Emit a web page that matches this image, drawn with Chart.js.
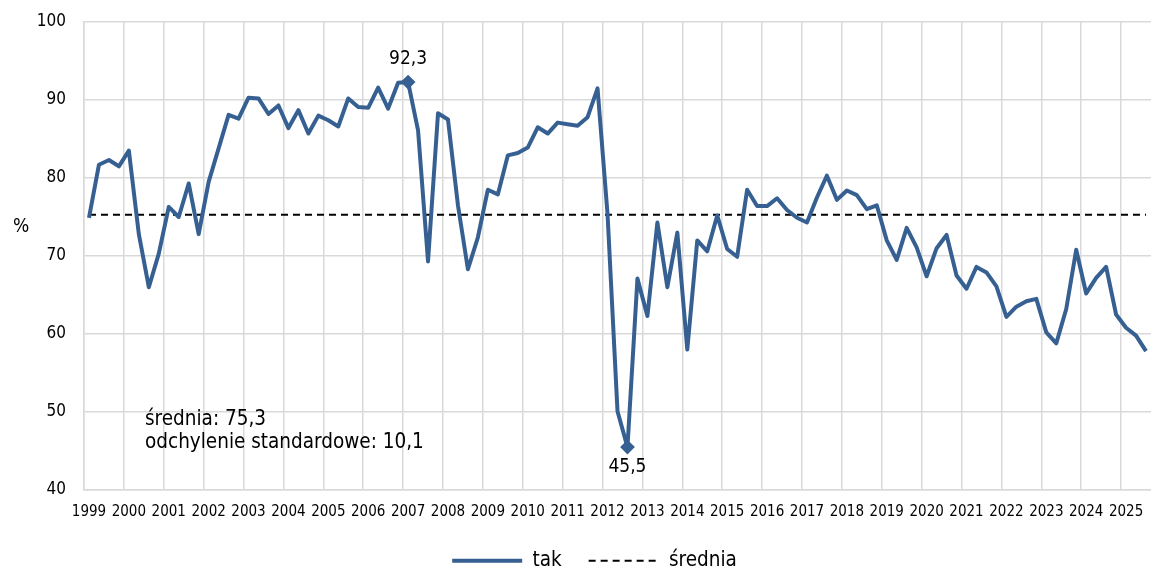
<!DOCTYPE html>
<html>
<head>
<meta charset="utf-8">
<script src="https://cdn.jsdelivr.net/npm/chart.js@4"></script>
<style>
  html, body { margin:0; padding:0; background:#fff; }
  #wrap { width:1151px; height:570px; }
</style>
</head>
<body>
<div id="wrap"><canvas id="chart" width="1151" height="570"></canvas></div>
<script>
// quarterly series, 1999 Q1 - 2025 Q3
const years = [1999,2000,2001,2002,2003,2004,2005,2006,2007,2008,2009,2010,2011,2012,
  2013,2014,2015,2016,2017,2018,2019,2020,2021,2022,2023,2024,2025];
const quartersPerYear = ['Q1','Q2','Q3','Q4'];

const takValues = [
  74.9, 81.7, 82.3, 81.5,   // 1999
  83.5, 72.8, 66.0, 70.3,   // 2000
  76.3, 75.0, 79.3, 72.8,   // 2001
  79.5, 83.8, 88.1, 87.6,   // 2002
  90.3, 90.2, 88.2, 89.3,   // 2003
  86.4, 88.7, 85.7, 88.0,   // 2004
  87.4, 86.6, 90.2, 89.1,   // 2005
  89.0, 91.6, 88.9, 92.2,   // 2006
  92.3, 86.1, 69.3, 88.3,   // 2007
  87.5, 76.5, 68.3, 72.4,   // 2008
  78.5, 77.9, 82.9, 83.2,   // 2009
  83.9, 86.5, 85.7, 87.1,   // 2010
  86.9, 86.7, 87.8, 91.5,   // 2011
  75.4, 50.1, 45.5, 67.1,   // 2012
  62.3, 74.3, 66.0, 73.0,   // 2013
  58.0, 72.0, 70.6, 75.2,   // 2014
  70.9, 69.9, 78.5, 76.4,   // 2015
  76.4, 77.4, 75.9, 74.9,   // 2016
  74.3, 77.5, 80.3, 77.2,   // 2017
  78.4, 77.8, 76.0, 76.5,   // 2018
  72.0, 69.5, 73.6, 71.1,   // 2019
  67.4, 71.0, 72.7, 67.5,   // 2020
  65.8, 68.6, 67.9, 66.1,   // 2021
  62.2, 63.5, 64.2, 64.5,   // 2022
  60.2, 58.8, 63.2, 70.8,   // 2023
  65.2, 67.2, 68.6, 62.5,   // 2024
  60.8, 59.8, 57.8          // 2025
];
const meanValue = 75.3;
const stdValue = 10.1;
const yTicks = [40, 50, 60, 70, 80, 90, 100];

const labels = [];
years.forEach(y => quartersPerYear.forEach(q => labels.push(y + ' ' + q)));
labels.length = takValues.length;

const FONT = "'DejaVu Sans Condensed', 'Noto Sans', sans-serif";
const BLUE = '#376092';
const GRID = '#d9d9d9';

const maxIdx = takValues.indexOf(Math.max(...takValues));
const minIdx = takValues.indexOf(Math.min(...takValues));
const fmt = v => v.toFixed(1).replace('.', ',');

// extra texts: "%" axis name, stats box, value labels at extremes
const extrasPlugin = {
  id: 'extras',
  afterDatasetsDraw(chart){
    const {ctx, chartArea} = chart;
    const meta = chart.getDatasetMeta(0);
    ctx.save();
    ctx.fillStyle = '#000';
    ctx.textBaseline = 'middle';
    ctx.textAlign = 'center';
    ctx.font = '19px ' + FONT;
    const pMax = meta.data[maxIdx], pMin = meta.data[minIdx];
    ctx.fillText(fmt(takValues[maxIdx]), pMax.x, pMax.y - 23);
    ctx.fillText(fmt(takValues[minIdx]), pMin.x, pMin.y + 20);

    ctx.font = '19px ' + FONT;
    ctx.fillText('%', 21, 227);

    ctx.font = '20.5px ' + FONT;
    ctx.textAlign = 'left';
    ctx.fillText('średnia: ' + fmt(meanValue), chartArea.left + 61, 420);
    ctx.fillText('odchylenie standardowe: ' + fmt(stdValue), chartArea.left + 61, 443);
    ctx.restore();
  }
};

new Chart(document.getElementById('chart').getContext('2d'), {
  type: 'line',
  data: {
    labels: labels,
    datasets: [{
      label: 'tak',
      data: takValues,
      borderColor: BLUE,
      backgroundColor: BLUE,
      borderWidth: 4,
      tension: 0,
      borderJoinStyle: 'round',
      pointStyle: 'rectRot',
      pointRadius: c => (c.dataIndex === maxIdx || c.dataIndex === minIdx) ? 6 : 0,
      pointBorderWidth: 2,
      pointBackgroundColor: BLUE,
      pointBorderColor: BLUE,
      order: 1
    }, {
      label: 'średnia',
      data: labels.map(() => meanValue),
      borderColor: '#000',
      backgroundColor: '#000',
      borderWidth: 2,
      borderDash: [7, 5],
      pointRadius: 0,
      order: 2
    }]
  },
  options: {
    responsive: false,
    animation: false,
    devicePixelRatio: 1,
    layout: { padding: { top: 22, left: 38, right: 0, bottom: -11 } },
    plugins: {
      legend: {
        position: 'bottom',
        labels: {
          usePointStyle: true,
          pointStyle: 'line',
          pointStyleWidth: 70,
          padding: 27,
          color: '#000',
          font: { family: FONT, size: 20.5 },
          generateLabels(chart){
            const items = Chart.defaults.plugins.legend.labels.generateLabels(chart);
            items.forEach(it => {
              const ds = chart.data.datasets[it.datasetIndex];
              it.lineWidth = ds.borderWidth;
              it.lineDash = ds.borderDash || [];
              it.strokeStyle = ds.borderColor;
              it.pointStyle = 'line';
            });
            return items;
          }
        }
      },
      tooltip: { enabled: false }
    },
    scales: {
      x: {
        type: 'category',
        offset: true,
        grid: {
          offset: true,
          drawTicks: false,
          lineWidth: 1.5,
          color: c => (c.index !== undefined && c.index % 4 === 0) ? GRID : 'rgba(0,0,0,0)'
        },
        border: { color: GRID, width: 1.5 },
        ticks: {
          autoSkip: false,
          maxRotation: 0,
          minRotation: 0,
          padding: 13,
          color: '#000',
          font: { family: FONT, size: 15 },
          callback: function(v, i){ return i % 4 === 0 ? years[i / 4] : ''; }
        },
        afterFit(s){ s.height = 33.5; s.paddingLeft = 0; s.paddingRight = 0; }
      },
      y: {
        min: 40,
        max: 100,
        afterBuildTicks(s){ s.ticks = yTicks.map(v => ({ value: v })); },
        grid: { drawTicks: false, color: GRID, lineWidth: 1.5 },
        border: { color: GRID, width: 1.5 },
        ticks: {
          padding: 18,
          color: '#000',
          font: { family: FONT, size: 17 }
        },
        afterFit(s){ s.width = 46; s.paddingTop = 0; s.paddingBottom = 0; }
      }
    }
  },
  plugins: [extrasPlugin]
});
</script>
</body>
</html>
